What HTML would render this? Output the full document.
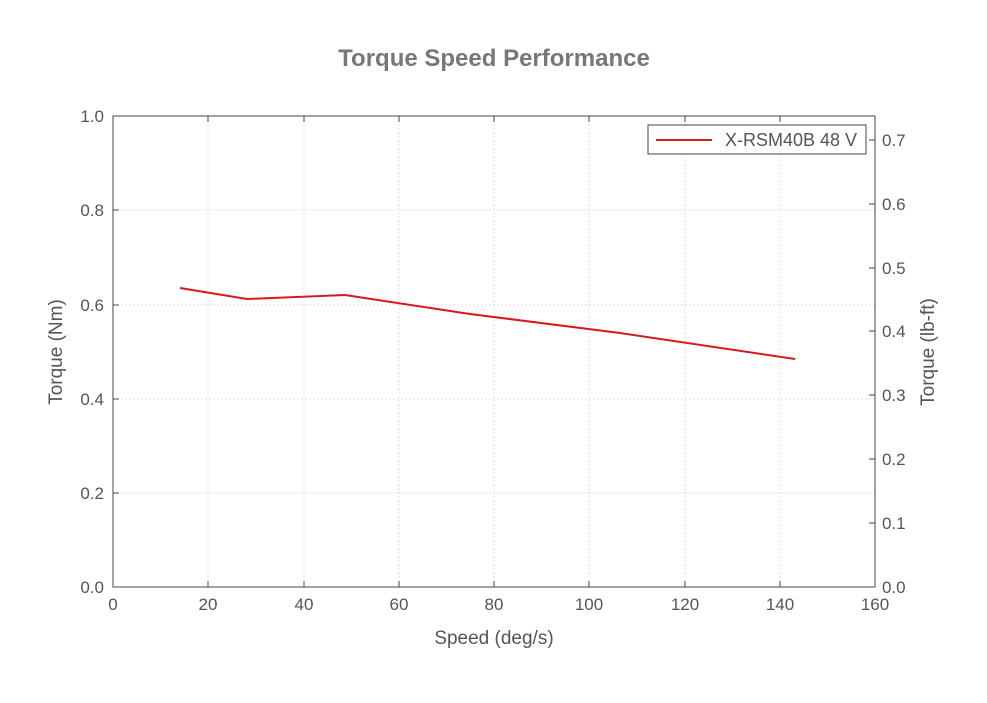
<!DOCTYPE html>
<html><head><meta charset="utf-8"><style>
body{margin:0;background:#fff;}
text{font-family:"Liberation Sans",sans-serif;fill:#555;}
</style></head><body>
<svg width="987" height="698" xmlns="http://www.w3.org/2000/svg">
<rect width="987" height="698" fill="#fff"/>
<text x="494" y="66" text-anchor="middle" font-size="24" font-weight="bold" style="fill:#777">Torque Speed Performance</text>
<g stroke="#dde" stroke-dasharray="2,2" stroke-width="1">
<line x1="208" y1="116" x2="208" y2="587"/><line x1="304" y1="116" x2="304" y2="587"/><line x1="399" y1="116" x2="399" y2="587"/><line x1="494" y1="116" x2="494" y2="587"/><line x1="589" y1="116" x2="589" y2="587"/><line x1="685" y1="116" x2="685" y2="587"/><line x1="780" y1="116" x2="780" y2="587"/>
<line x1="113" y1="210" x2="875" y2="210"/><line x1="113" y1="305" x2="875" y2="305"/><line x1="113" y1="399" x2="875" y2="399"/><line x1="113" y1="493" x2="875" y2="493"/>
</g>
<rect x="113" y="116" width="762" height="471" fill="none" stroke="#444" stroke-width="1"/>
<g stroke="#444">
<line x1="113" y1="210" x2="119" y2="210"/><line x1="113" y1="305" x2="119" y2="305"/><line x1="113" y1="399" x2="119" y2="399"/><line x1="113" y1="493" x2="119" y2="493"/>
<line x1="208" y1="116" x2="208" y2="122"/><line x1="304" y1="116" x2="304" y2="122"/><line x1="399" y1="116" x2="399" y2="122"/><line x1="494" y1="116" x2="494" y2="122"/><line x1="589" y1="116" x2="589" y2="122"/><line x1="685" y1="116" x2="685" y2="122"/><line x1="780" y1="116" x2="780" y2="122"/>
<line x1="208" y1="587" x2="208" y2="581"/><line x1="304" y1="587" x2="304" y2="581"/><line x1="399" y1="587" x2="399" y2="581"/><line x1="494" y1="587" x2="494" y2="581"/><line x1="589" y1="587" x2="589" y2="581"/><line x1="685" y1="587" x2="685" y2="581"/><line x1="780" y1="587" x2="780" y2="581"/>
<line x1="869" y1="523" x2="875" y2="523"/><line x1="869" y1="459" x2="875" y2="459"/><line x1="869" y1="395" x2="875" y2="395"/><line x1="869" y1="331" x2="875" y2="331"/><line x1="869" y1="268" x2="875" y2="268"/><line x1="869" y1="204" x2="875" y2="204"/><line x1="869" y1="140" x2="875" y2="140"/>
</g>
<g font-size="17" text-anchor="end">
<text x="104" y="122">1.0</text><text x="104" y="216">0.8</text><text x="104" y="311">0.6</text><text x="104" y="405">0.4</text><text x="104" y="499">0.2</text><text x="104" y="593">0.0</text>
</g>
<g font-size="17" text-anchor="start">
<text x="882" y="146">0.7</text><text x="882" y="210">0.6</text><text x="882" y="274">0.5</text><text x="882" y="337">0.4</text><text x="882" y="401">0.3</text><text x="882" y="465">0.2</text><text x="882" y="529">0.1</text><text x="882" y="593">0.0</text>
</g>
<g font-size="17" text-anchor="middle">
<text x="113" y="610">0</text><text x="208" y="610">20</text><text x="304" y="610">40</text><text x="399" y="610">60</text><text x="494" y="610">80</text><text x="589" y="610">100</text><text x="685" y="610">120</text><text x="780" y="610">140</text><text x="875" y="610">160</text>
</g>
<text x="494" y="644" text-anchor="middle" font-size="19">Speed (deg/s)</text>
<text transform="translate(62,352) rotate(-90)" text-anchor="middle" font-size="19">Torque (Nm)</text>
<text transform="translate(934,352) rotate(-90)" text-anchor="middle" font-size="19">Torque (lb-ft)</text>
<polyline points="180,288 247,299 345,295 470,314 620,333 795,359" fill="none" stroke="#d7191c" stroke-width="2"/>
<rect x="648" y="125" width="218" height="29" fill="#fff" stroke="#444" stroke-width="1"/>
<line x1="656" y1="140" x2="712" y2="140" stroke="#d7191c" stroke-width="2"/>
<text x="725" y="146" font-size="18">X-RSM40B 48 V</text>
</svg>
</body></html>
